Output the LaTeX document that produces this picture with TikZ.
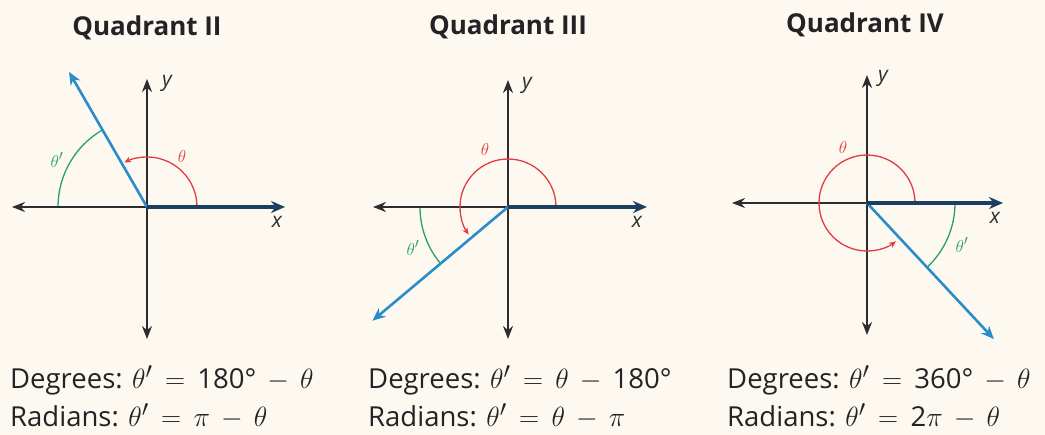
\documentclass[tikz,border=0pt]{standalone}
\usepackage{graphicx}
\usepackage{fontspec}
\setmainfont{Open Sans}
\usetikzlibrary{arrows.meta}
\definecolor{bgc}{RGB}{253,249,241}
\definecolor{axisc}{RGB}{45,45,48}
\definecolor{navyc}{RGB}{28,62,96}
\definecolor{rayc}{RGB}{42,140,200}
\definecolor{redc}{RGB}{226,60,66}
\definecolor{greenc}{RGB}{40,160,105}
\definecolor{textc}{RGB}{35,35,38}
\newcommand\mth[1]{\scalebox{1.12}{$#1$}}
\newcommand\myeq{\hspace{0.45em}\mth{=}\hspace{0.45em}}
\newcommand\mymin{\hspace{0.4em}\mth{-}\hspace{0.4em}}
\tikzset{
  axisline/.style={draw=axisc, line width=1.8pt, -{Stealth[length=13pt,width=10pt]}},
  initside/.style={draw=navyc, line width=3.6pt, -{Stealth[length=14pt,width=12pt]}},
  termside/.style={draw=rayc, line width=2.6pt, -{Stealth[length=13pt,width=11pt]}},
  redarc/.style={draw=redc, line width=1.3pt, -{Stealth[length=7pt,width=6pt]}},
  greenarc/.style={draw=greenc, line width=1.3pt},
  axlabel/.style={font=\fontsize{21}{21}\selectfont\itshape, text=axisc, inner sep=0pt},
  thlabel/.style={font=\fontsize{19}{19}\selectfont, inner sep=0pt},
  title/.style={font=\fontsize{26}{26}\selectfont\bfseries, text=textc, inner sep=0pt},
  formula/.style={font=\fontsize{27.5}{27.5}\selectfont, text=textc, inner sep=0pt, anchor=base west},
}
\begin{document}
\begin{tikzpicture}[x=1pt,y=1pt]
\useasboundingbox (0,0) rectangle (1045,435);
\fill[bgc] (0,0) rectangle (1045,435);

% ---------- Quadrant II ----------
\begin{scope}[shift={(147,228)}]
  \coordinate (O1) at (0,0);
  \coordinate (L1) at (-135,0);
  \coordinate (R1) at (138,0);
  \coordinate (T1) at (0,128);
  \coordinate (B1) at (0,-132);
  \coordinate (P1) at (120:156);
  \draw[greenarc] (120:89) arc[start angle=120, end angle=180, radius=89];
  \draw[axisline] (O1) -- (L1);
  \draw[axisline] (O1) -- (T1);
  \draw[axisline] (O1) -- (B1);
  \draw[redarc] (50,0) arc[start angle=0, end angle=117, radius=50];
  \draw[termside] (O1) -- (P1);
  \draw[initside] (O1) -- (R1);
  \node[axlabel] (x1) at (130,-15) {x};
  \node[axlabel] (y1) at (20,124) {y};
  \node[thlabel, text=redc] (t1) at (35,50) {$\theta$};
  \node[thlabel, text=greenc] (tp1) at (-90,47) {$\theta'$};
\end{scope}
\node[title] (h1) at (147,407) {Quadrant II};

% ---------- Quadrant III ----------
\begin{scope}[shift={(508,228)}]
  \coordinate (O2) at (0,0);
  \coordinate (L2) at (-135,0);
  \coordinate (R2) at (139,0);
  \coordinate (T2) at (0,127);
  \coordinate (B2) at (0,-132);
  \coordinate (P2) at (220:177);
  \draw[greenarc] (180:88) arc[start angle=180, end angle=220, radius=88];
  \draw[axisline] (O2) -- (L2);
  \draw[axisline] (O2) -- (T2);
  \draw[axisline] (O2) -- (B2);
  \draw[redarc] (48,0) arc[start angle=0, end angle=215, radius=48];
  \draw[termside] (O2) -- (P2);
  \draw[initside] (O2) -- (R2);
  \node[axlabel] (x2) at (129,-15) {x};
  \node[axlabel] (y2) at (19,122) {y};
  \node[thlabel, text=redc] (t2) at (-23,57) {$\theta$};
  \node[thlabel, text=greenc] (tp2) at (-95,-41) {$\theta'$};
\end{scope}
\node[title] (h2) at (508,408) {Quadrant III};

% ---------- Quadrant IV ----------
\begin{scope}[shift={(867,232)}]
  \coordinate (O3) at (0,0);
  \coordinate (L3) at (-135,0);
  \coordinate (R3) at (136,0);
  \coordinate (T3) at (0,128);
  \coordinate (B3) at (0,-132);
  \coordinate (P3) at (313:186);
  \draw[greenarc] (313:88) arc[start angle=313, end angle=360, radius=88];
  \draw[axisline] (O3) -- (L3);
  \draw[axisline] (O3) -- (T3);
  \draw[axisline] (O3) -- (B3);
  \draw[redarc] (48,0) arc[start angle=0, end angle=307, radius=48];
  \draw[termside] (O3) -- (P3);
  \draw[initside] (O3) -- (R3);
  \node[axlabel] (x3) at (128,-15) {x};
  \node[axlabel] (y3) at (16,125) {y};
  \node[thlabel, text=redc] (t3) at (-24,55) {$\theta$};
  \node[thlabel, text=greenc] (tp3) at (95,-42) {$\theta'$};
\end{scope}
\node[title] (h3) at (865,410) {Quadrant IV};

% ---------- Formulas ----------
\node[formula] (d1) at (10,46) {Degrees: \mth{\theta'}\myeq 180°\mymin\mth{\theta}};
\node[formula] (r1) at (10,8) {Radians: \mth{\theta'}\myeq\mth{\pi}\mymin\mth{\theta}};
\node[formula] (d2) at (368,46) {Degrees: \mth{\theta'}\myeq\mth{\theta}\mymin180°};
\node[formula] (r2) at (368,8) {Radians: \mth{\theta'}\myeq\mth{\theta}\mymin\mth{\pi}};
\node[formula] (d3) at (727,46) {Degrees: \mth{\theta'}\myeq 360°\mymin\mth{\theta}};
\node[formula] (r3) at (727,8) {Radians: \mth{\theta'}\myeq 2\mth{\pi}\mymin\mth{\theta}};
\end{tikzpicture}
\end{document}
